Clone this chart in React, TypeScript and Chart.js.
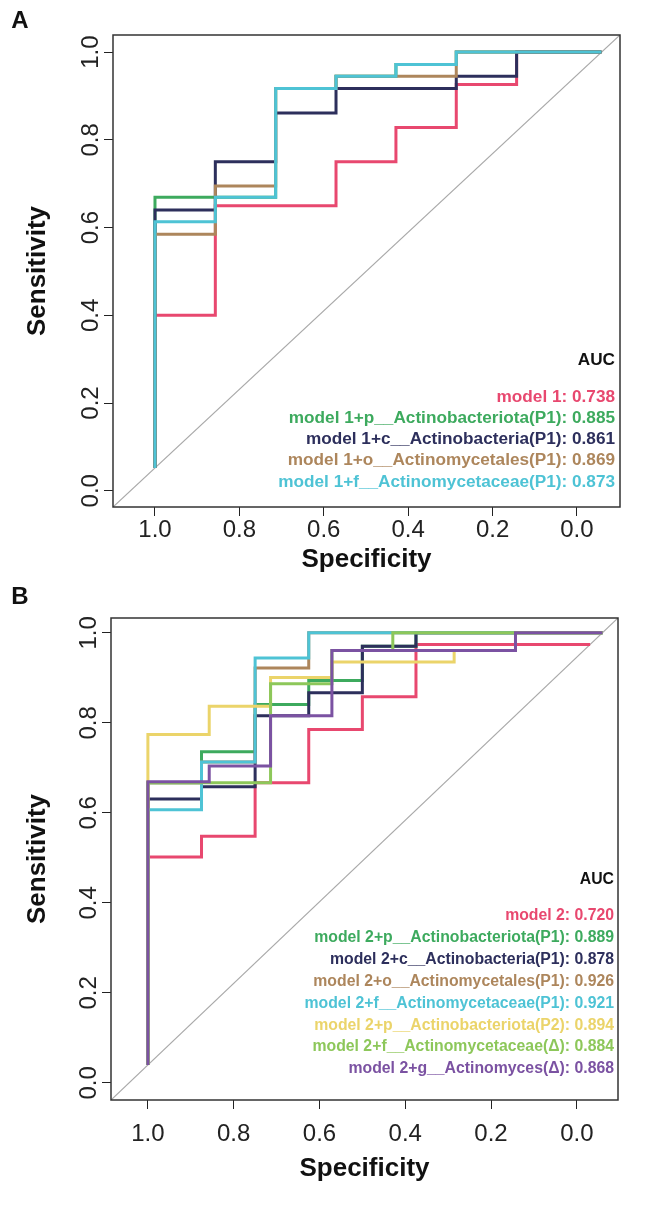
import React, { useEffect, useRef } from 'react';
import { Chart, registerables } from 'chart.js';

Chart.register(...registerables);

const FONT = '"Liberation Sans", Arial, Helvetica, sans-serif';

// ---- shared axis ticks ----
const X_TICKS = [1.0, 0.8, 0.6, 0.4, 0.2, 0.0];
const Y_TICKS = [0.0, 0.2, 0.4, 0.6, 0.8, 1.0];

// ---- Panel A ----
const A_LABELS = [
  'model 1',
  'model 1+p__Actinobacteriota(P1)',
  'model 1+c__Actinobacteria(P1)',
  'model 1+o__Actinomycetales(P1)',
  'model 1+f__Actinomycetaceae(P1)',
];
const A_AUC = ['0.738', '0.885', '0.861', '0.869', '0.873'];
const A_COLORS = ['#E8486F', '#3DAA5E', '#2D2F5C', '#AD865C', '#4EC3D5'];

const A1_SPEC = [1, 1, 0.857, 0.571, 0.429, 0.286, 0.143, -0.058];
const A1_SENS = [0.052, 0.4, 0.65, 0.75, 0.828, 0.926, 1.0, 1.0];
const A2_SPEC = [1, 1, 0.714, 0.571, 0.429, 0.286, -0.058];
const A2_SENS = [0.052, 0.669, 0.917, 0.945, 0.972, 1.0, 1.0];
const A3_SPEC = [1, 1, 0.857, 0.714, 0.571, 0.286, 0.143, -0.058];
const A3_SENS = [0.052, 0.64, 0.75, 0.861, 0.917, 0.945, 1.0, 1.0];
const A4_SPEC = [1, 1, 0.857, 0.714, 0.571, 0.286, -0.058];
const A4_SENS = [0.052, 0.585, 0.695, 0.917, 0.945, 1.0, 1.0];
const A5_SPEC = [1, 1, 0.857, 0.714, 0.571, 0.429, 0.286, -0.058];
const A5_SENS = [0.052, 0.613, 0.669, 0.917, 0.945, 0.972, 1.0, 1.0];

// ---- Panel B ----
const B_LABELS = [
  'model 2',
  'model 2+p__Actinobacteriota(P1)',
  'model 2+c__Actinobacteria(P1)',
  'model 2+o__Actinomycetales(P1)',
  'model 2+f__Actinomycetaceae(P1)',
  'model 2+p__Actinobacteriota(P2)',
  'model 2+f__Actinomycetaceae(Δ)',
  'model 2+g__Actinomyces(Δ)',
];
const B_AUC = ['0.720', '0.889', '0.878', '0.926', '0.921', '0.894', '0.884', '0.868'];
const B_COLORS = ['#E8486F', '#3DAA5E', '#2D2F5C', '#AD865C', '#4EC3D5', '#EBD46A', '#8DC75A', '#7B52A2'];

const B1_SPEC = [1, 1, 0.875, 0.75, 0.625, 0.5, 0.375, -0.031];
const B1_SENS = [0.04, 0.502, 0.548, 0.667, 0.785, 0.858, 0.974, 0.974];
const B2_SPEC = [1, 1, 0.875, 0.75, 0.625, 0.5, 0.375, -0.06];
const B2_SENS = [0.04, 0.667, 0.736, 0.841, 0.894, 0.97, 1.0, 1.0];
const B3_SPEC = [1, 1, 0.875, 0.75, 0.625, 0.5, 0.375, -0.06];
const B3_SENS = [0.04, 0.631, 0.658, 0.816, 0.867, 0.97, 1.0, 1.0];
const B4_SPEC = [1, 1, 0.875, 0.75, 0.625, -0.06];
const B4_SENS = [0.04, 0.667, 0.713, 0.922, 1.0, 1.0];
const B5_SPEC = [1, 1, 0.875, 0.75, 0.625, -0.06];
const B5_SENS = [0.04, 0.607, 0.713, 0.944, 1.0, 1.0];
const B6_SPEC = [1, 1, 0.857, 0.714, 0.571, 0.286, 0.143, -0.06];
const B6_SENS = [0.04, 0.774, 0.837, 0.901, 0.935, 0.961, 1.0, 1.0];
const B7_SPEC = [1, 1, 0.714, 0.571, 0.429, -0.06];
const B7_SENS = [0.04, 0.667, 0.887, 0.961, 1.0, 1.0];
const B8_SPEC = [1, 1, 0.857, 0.714, 0.571, 0.143, -0.06];
const B8_SENS = [0.04, 0.669, 0.704, 0.816, 0.961, 1.0, 1.0];

type PanelDef = {
  letter: string;
  labels: string[];
  auc: string[];
  colors: string[];
  specs: number[][];
  sens: number[][];
  xMin: number;
  xMax: number;
  yMin: number;
  yMax: number;
  canvasTop: number;
  canvasHeight: number;
  areaTop: number;
  areaBottom: number;
  areaLeft: number;
  areaRight: number;
  xTickPad: number;
  yTickPad: number;
  xTitlePad: number;
  legendSize: number;
  legendStep: number;
  legendInset: number;
  legendBottom: number;
  legendTitleGap: number;
  letterY: number;
};

const PANEL_A: PanelDef = {
  letter: 'A',
  labels: A_LABELS,
  auc: A_AUC,
  colors: A_COLORS,
  specs: [A1_SPEC, A2_SPEC, A3_SPEC, A4_SPEC, A5_SPEC],
  sens: [A1_SENS, A2_SENS, A3_SENS, A4_SENS, A5_SENS],
  xMin: -0.102,
  xMax: 1.0995,
  yMin: -0.037,
  yMax: 1.039,
  canvasTop: 0,
  canvasHeight: 585,
  areaTop: 35,
  areaBottom: 507,
  areaLeft: 113,
  areaRight: 620,
  xTickPad: 0,
  yTickPad: -4,
  xTitlePad: 12,
  legendSize: 17.2,
  legendStep: 21.3,
  legendInset: 5,
  legendBottom: 25,
  legendTitleGap: 37,
  letterY: 21,
};

const PANEL_B: PanelDef = {
  letter: 'B',
  labels: B_LABELS,
  auc: B_AUC,
  colors: B_COLORS,
  specs: [B1_SPEC, B2_SPEC, B3_SPEC, B4_SPEC, B5_SPEC, B6_SPEC, B7_SPEC, B8_SPEC],
  sens: [B1_SENS, B2_SENS, B3_SENS, B4_SENS, B5_SENS, B6_SENS, B7_SENS, B8_SENS],
  xMin: -0.096,
  xMax: 1.086,
  yMin: -0.038,
  yMax: 1.033,
  canvasTop: 578,
  canvasHeight: 628,
  areaTop: 40,
  areaBottom: 522,
  areaLeft: 111,
  areaRight: 618,
  xTickPad: 11,
  yTickPad: -4,
  xTitlePad: 24,
  legendSize: 15.8,
  legendStep: 21.9,
  legendInset: 4,
  legendBottom: 31,
  legendTitleGap: 36,
  letterY: 19,
};

function decorPlugin(p: PanelDef) {
  return {
    id: 'rocDecor' + p.letter,
    afterDatasetsDraw(chart: any) {
      const { ctx, chartArea: a } = chart;
      ctx.save();
      ctx.strokeStyle = '#333';
      ctx.lineWidth = 1.5;
      ctx.strokeRect(a.left, a.top, a.right - a.left, a.bottom - a.top);

      const xr = a.right - p.legendInset;
      const n = p.labels.length;
      const lastY = a.bottom - p.legendBottom;
      const firstY = lastY - (n - 1) * p.legendStep;
      ctx.textAlign = 'right';
      ctx.textBaseline = 'middle';
      ctx.font = `bold ${p.legendSize}px ${FONT}`;
      ctx.fillStyle = '#111';
      ctx.fillText('AUC', xr, firstY - p.legendTitleGap);
      p.labels.forEach((lab, i) => {
        ctx.fillStyle = p.colors[i];
        ctx.fillText(`${lab}: ${p.auc[i]}`, xr, firstY + i * p.legendStep);
      });

      ctx.fillStyle = '#111';
      ctx.textAlign = 'center';
      ctx.font = `bold 24px ${FONT}`;
      ctx.fillText(p.letter, 20, p.letterY);
      ctx.restore();
    },
  };
}

function buildConfig(p: PanelDef): any {
  const diagonal = {
    label: 'diag',
    data: [
      { x: p.xMax, y: p.yMin },
      { x: p.xMin, y: p.yMax },
    ],
    borderColor: '#A9A9A9',
    borderWidth: 1.2,
    pointRadius: 0,
    fill: false,
    order: 100,
  };
  const curves = p.specs.map((spec, i) => ({
    label: p.labels[i],
    data: spec.map((s, j) => ({ x: s, y: p.sens[i][j] })),
    borderColor: p.colors[i],
    borderWidth: 3,
    pointRadius: 0,
    fill: false,
    stepped: 'before',
    order: p.specs.length - i,
  }));
  const tickFont = { family: FONT, size: 24 };
  const titleFont = { family: FONT, size: 26, weight: 'bold', lineHeight: 1 };
  return {
    type: 'line',
    data: { datasets: [diagonal, ...curves] },
    options: {
      responsive: false,
      animation: false,
      devicePixelRatio: 1,
      layout: {
        padding: {
          top: p.areaTop,
          left: 0,
          right: 650 - p.areaRight,
          bottom: 0,
        },
      },
      plugins: { legend: { display: false }, tooltip: { enabled: false } },
      scales: {
        x: {
          type: 'linear',
          reverse: true,
          min: p.xMin,
          max: p.xMax,
          afterBuildTicks: (s: any) => {
            s.ticks = X_TICKS.map((v) => ({ value: v }));
          },
          afterFit: (s: any) => {
            s.height = p.canvasHeight - p.areaBottom;
          },
          ticks: {
            callback: (v: any) => Number(v).toFixed(1),
            font: tickFont,
            color: '#222',
            padding: p.xTickPad,
            maxRotation: 0,
            autoSkip: false,
          },
          grid: { drawOnChartArea: false, drawTicks: true, tickLength: 9, color: '#222', lineWidth: 1 },
          border: { display: false },
          title: {
            display: true,
            text: 'Specificity',
            font: titleFont,
            color: '#111',
            padding: { top: 0, bottom: p.xTitlePad },
          },
        },
        y: {
          type: 'linear',
          min: p.yMin,
          max: p.yMax,
          afterBuildTicks: (s: any) => {
            s.ticks = Y_TICKS.map((v) => ({ value: v }));
          },
          afterFit: (s: any) => {
            s.width = p.areaLeft;
          },
          ticks: {
            callback: (v: any) => Number(v).toFixed(1),
            font: tickFont,
            color: '#222',
            padding: p.yTickPad,
            minRotation: 90,
            maxRotation: 90,
            crossAlign: 'center',
            autoSkip: false,
          },
          grid: { drawOnChartArea: false, drawTicks: true, tickLength: 9, color: '#222', lineWidth: 1 },
          border: { display: false },
          title: {
            display: true,
            text: 'Sensitivity',
            font: titleFont,
            color: '#111',
            padding: { top: 25, bottom: 0 },
          },
        },
      },
    },
    plugins: [decorPlugin(p)],
  };
}

function RocPanel({ def }: { def: PanelDef }) {
  const ref = useRef<HTMLCanvasElement>(null);
  useEffect(() => {
    if (!ref.current) return;
    const chart = new Chart(ref.current, buildConfig(def));
    return () => chart.destroy();
  }, [def]);
  return (
    <canvas
      ref={ref}
      width={650}
      height={def.canvasHeight}
      style={{ position: 'absolute', left: 0, top: def.canvasTop, width: 650, height: def.canvasHeight }}
    />
  );
}

export default function App() {
  return (
    <div style={{ position: 'absolute', left: 0, top: 0, width: 650, height: 1206, background: '#fff' }}>
      <RocPanel def={PANEL_A} />
      <RocPanel def={PANEL_B} />
    </div>
  );
}
